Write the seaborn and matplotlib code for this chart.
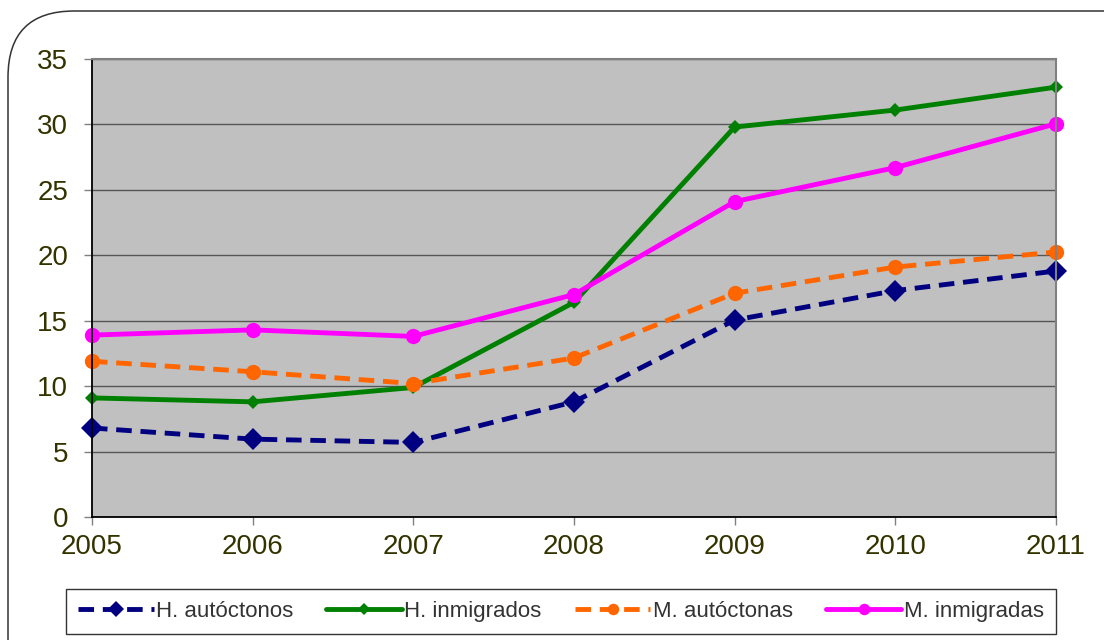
import matplotlib
matplotlib.use("Agg")
import matplotlib.pyplot as plt
from matplotlib.patches import FancyBboxPatch
import seaborn as sns
import pandas as pd

years = [2005, 2006, 2007, 2008, 2009, 2010, 2011]
h_autoctonos = [6.8, 5.95, 5.7, 8.8, 15.05, 17.3, 18.8]
h_inmigrados = [9.1, 8.8, 9.9, 16.4, 29.8, 31.1, 32.85]
m_autoctonas = [11.9, 11.1, 10.2, 12.15, 17.1, 19.1, 20.25]
m_inmigradas = [13.9, 14.3, 13.8, 17.0, 24.1, 26.7, 30.05]

series_names = ["H. autóctonos", "H. inmigrados", "M. autóctonas", "M. inmigradas"]
series_values = [h_autoctonos, h_inmigrados, m_autoctonas, m_inmigradas]
colors = ["#000080", "#008000", "#FF6600", "#FF00FF"]
markers = ["D", "D", "o", "o"]
marker_sizes = [11, 7.5, 11, 11]
dashed = [True, False, True, False]

sns.set_theme(style="white")
plt.rcParams["font.family"] = ["Liberation Sans", "DejaVu Sans"]

fig = plt.figure(figsize=(11.04, 6.4), dpi=100)
ax = fig.add_axes([0.0833, 0.1922, 0.8732, 0.7156])
ax.set_facecolor("#C0C0C0")

for name, vals, c, m, ms, d in zip(series_names, series_values, colors, markers, marker_sizes, dashed):
    df = pd.DataFrame({"year": years, "value": vals})
    sns.lineplot(data=df, x="year", y="value", ax=ax, color=c, marker=m,
                 markersize=ms, markeredgewidth=0, linewidth=3.5, label=name,
                 linestyle=(0, (3.2, 1.8)) if d else "-")

ax.set_xlim(2005, 2011)
ax.set_ylim(0, 35)
ax.set_yticks(range(0, 36, 5))
ax.set_xticks(years)
ax.set_xlabel("")
ax.set_ylabel("")
ax.grid(axis="y", color="#555555", linewidth=1)
ax.set_axisbelow(True)
for sp in ["left", "bottom"]:
    ax.spines[sp].set_color("black")
    ax.spines[sp].set_linewidth(1.3)
for sp in ["top", "right"]:
    ax.spines[sp].set_color("#808080")
    ax.spines[sp].set_linewidth(1.5)
ax.tick_params(axis="both", direction="out", length=6, width=1, color="#808080",
               labelsize=20, labelcolor="#333300", left=True, bottom=True)
ax.tick_params(axis="x", pad=6)
ax.tick_params(axis="y", pad=11)
for line in ax.lines:
    line.set_clip_on(False)

ax.get_legend().remove()
handles, labels = ax.get_legend_handles_labels()
leg = fig.legend(handles, labels, loc="center", bbox_to_anchor=(0.508, 0.0445), ncol=4,
                 frameon=True, fancybox=False, fontsize=16, handlelength=3.4,
                 handletextpad=0.1, columnspacing=1.5, borderpad=0.55,
                 markerscale=0.75)
leg.get_frame().set_edgecolor("black")
leg.get_frame().set_linewidth(1)
for t in leg.get_texts():
    t.set_color("#333333")

frame = FancyBboxPatch((8 / 1104, -0.1), 1.2, 1 - 11 / 640 + 0.1,
                       boxstyle="round,pad=0,rounding_size=0.06",
                       transform=fig.transFigure, facecolor="none",
                       edgecolor="#333333", linewidth=1.1, mutation_aspect=1104 / 640)
fig.patches.append(frame)

fig.savefig("out.png", dpi=100)
